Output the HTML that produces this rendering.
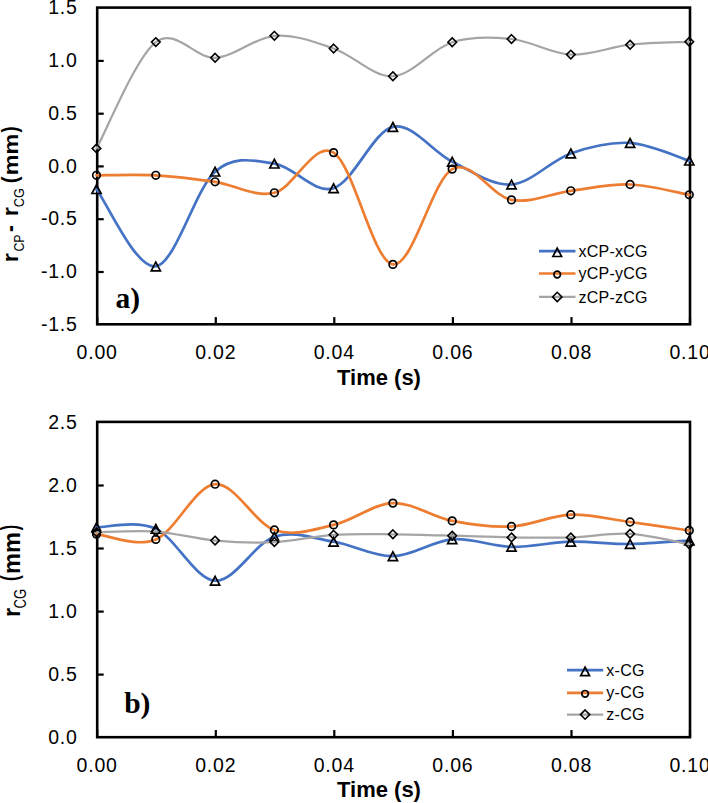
<!DOCTYPE html>
<html><head><meta charset="utf-8">
<style>
html,body{margin:0;padding:0;background:#fff;}
body{width:708px;height:803px;overflow:hidden;}
svg{display:block;}
.tk{stroke:#000;stroke-width:2.2;}
.mt{fill:none;stroke:#000;stroke-width:1.7;stroke-linejoin:miter;}
.mc{fill:none;stroke:#000;stroke-width:1.7;}
.md{fill:none;stroke:#000;stroke-width:1.6;}
.tl{font-family:"Liberation Sans",sans-serif;font-size:19.5px;letter-spacing:0.8px;fill:#000;}
.at{font-family:"Liberation Sans",sans-serif;font-size:22px;font-weight:bold;fill:#000;}
.sub{font-size:15px;}
.vt{font-family:"Liberation Sans",sans-serif;fill:#000;}
.pl{font-family:"Liberation Serif",serif;font-size:29.5px;font-weight:bold;fill:#000;}
.lg{font-family:"Liberation Sans",sans-serif;font-size:16px;letter-spacing:0.25px;fill:#000;}
</style></head>
<body>
<svg width="708" height="803" viewBox="0 0 708 803">
<rect x="97.2" y="7.6" width="592.8" height="316.7" fill="none" stroke="#000" stroke-width="2.6"/>
<line x1="97.2" y1="60.9" x2="103.7" y2="60.9" class="tk"/>
<line x1="97.2" y1="113.7" x2="103.7" y2="113.7" class="tk"/>
<line x1="97.2" y1="166.4" x2="103.7" y2="166.4" class="tk"/>
<line x1="97.2" y1="219.2" x2="103.7" y2="219.2" class="tk"/>
<line x1="97.2" y1="272.0" x2="103.7" y2="272.0" class="tk"/>
<line x1="97.2" y1="324.3" x2="97.2" y2="317.1" class="tk"/>
<line x1="215.8" y1="324.3" x2="215.8" y2="317.1" class="tk"/>
<line x1="334.3" y1="324.3" x2="334.3" y2="317.1" class="tk"/>
<line x1="452.9" y1="324.3" x2="452.9" y2="317.1" class="tk"/>
<line x1="571.5" y1="324.3" x2="571.5" y2="317.1" class="tk"/>
<line x1="690.0" y1="324.3" x2="690.0" y2="317.1" class="tk"/>
<path d="M96.5 189.2C106.4 202.1 136.0 269.4 155.8 266.4C175.5 263.5 195.3 188.8 215.1 171.7C234.8 154.5 254.6 160.9 274.4 163.6C294.1 166.4 313.9 194.3 333.6 188.2C353.4 182.1 373.2 131.3 392.9 126.9C412.7 122.5 432.4 152.1 452.2 161.7C472.0 171.3 491.7 185.9 511.5 184.5C531.3 183.1 551.0 160.3 570.8 153.4C590.5 146.5 610.3 141.7 630.1 142.9C649.8 144.2 679.5 157.7 689.3 160.7" fill="none" stroke="#4472c4" stroke-width="2.7" stroke-linejoin="round" stroke-linecap="round"/>
<path d="M96.5 184.8L101.1 193.5L91.9 193.5Z" class="mt"/><path d="M155.8 262.1L160.4 270.8L151.2 270.8Z" class="mt"/><path d="M215.1 167.3L219.7 176.0L210.5 176.0Z" class="mt"/><path d="M274.4 159.3L279.0 168.0L269.8 168.0Z" class="mt"/><path d="M333.6 183.9L338.2 192.6L329.0 192.6Z" class="mt"/><path d="M392.9 122.5L397.5 131.3L388.3 131.3Z" class="mt"/><path d="M452.2 157.4L456.8 166.1L447.6 166.1Z" class="mt"/><path d="M511.5 180.2L516.1 188.9L506.9 188.9Z" class="mt"/><path d="M570.8 149.0L575.4 157.8L566.2 157.8Z" class="mt"/><path d="M630.1 138.6L634.7 147.3L625.5 147.3Z" class="mt"/><path d="M689.3 156.3L693.9 165.0L684.7 165.0Z" class="mt"/>
<path d="M96.5 175.3C106.4 175.3 136.0 174.3 155.8 175.3C175.5 176.4 195.3 178.9 215.1 181.8C234.8 184.7 254.6 197.6 274.4 192.8C294.1 187.9 313.9 140.7 333.6 152.6C353.4 164.6 373.2 261.7 392.9 264.4C412.7 267.2 432.4 179.9 452.2 169.1C472.0 158.4 491.7 196.3 511.5 199.9C531.3 203.5 551.0 193.3 570.8 190.8C590.5 188.2 610.3 183.9 630.1 184.5C649.8 185.2 679.5 193.1 689.3 194.8" fill="none" stroke="#ed7d31" stroke-width="2.7" stroke-linejoin="round" stroke-linecap="round"/>
<circle cx="96.5" cy="175.3" r="3.8" class="mc"/><circle cx="155.8" cy="175.3" r="3.8" class="mc"/><circle cx="215.1" cy="181.8" r="3.8" class="mc"/><circle cx="274.4" cy="192.8" r="3.8" class="mc"/><circle cx="333.6" cy="152.6" r="3.8" class="mc"/><circle cx="392.9" cy="264.4" r="3.8" class="mc"/><circle cx="452.2" cy="169.1" r="3.8" class="mc"/><circle cx="511.5" cy="199.9" r="3.8" class="mc"/><circle cx="570.8" cy="190.8" r="3.8" class="mc"/><circle cx="630.1" cy="184.5" r="3.8" class="mc"/><circle cx="689.3" cy="194.8" r="3.8" class="mc"/>
<path d="M96.5 148.4C106.4 130.7 136.0 57.2 155.8 42.1C175.5 27.0 195.3 58.9 215.1 57.8C234.8 56.8 254.6 37.4 274.4 35.8C294.1 34.2 313.9 41.7 333.6 48.5C353.4 55.2 373.2 77.3 392.9 76.2C412.7 75.2 432.4 48.4 452.2 42.2C472.0 36.0 491.7 36.9 511.5 39.0C531.3 41.0 551.0 53.6 570.8 54.6C590.5 55.5 610.3 46.8 630.1 44.7C649.8 42.5 679.5 42.3 689.3 41.8" fill="none" stroke="#a5a5a5" stroke-width="2.2" stroke-linejoin="round" stroke-linecap="round"/>
<path d="M96.5 144.1L100.8 148.4L96.5 152.7L92.2 148.4Z" class="md"/><path d="M155.8 37.8L160.1 42.1L155.8 46.4L151.5 42.1Z" class="md"/><path d="M215.1 53.5L219.4 57.8L215.1 62.1L210.8 57.8Z" class="md"/><path d="M274.4 31.5L278.7 35.8L274.4 40.1L270.1 35.8Z" class="md"/><path d="M333.6 44.2L337.9 48.5L333.6 52.8L329.3 48.5Z" class="md"/><path d="M392.9 71.9L397.2 76.2L392.9 80.5L388.6 76.2Z" class="md"/><path d="M452.2 37.9L456.5 42.2L452.2 46.5L447.9 42.2Z" class="md"/><path d="M511.5 34.7L515.8 39.0L511.5 43.3L507.2 39.0Z" class="md"/><path d="M570.8 50.3L575.1 54.6L570.8 58.9L566.5 54.6Z" class="md"/><path d="M630.1 40.4L634.4 44.7L630.1 49.0L625.8 44.7Z" class="md"/><path d="M689.3 37.5L693.6 41.8L689.3 46.1L685.0 41.8Z" class="md"/>
<rect x="97.2" y="421.9" width="592.8" height="315.3" fill="none" stroke="#000" stroke-width="2.6"/>
<line x1="97.2" y1="485.5" x2="103.7" y2="485.5" class="tk"/>
<line x1="97.2" y1="548.5" x2="103.7" y2="548.5" class="tk"/>
<line x1="97.2" y1="611.6" x2="103.7" y2="611.6" class="tk"/>
<line x1="97.2" y1="674.6" x2="103.7" y2="674.6" class="tk"/>
<line x1="97.2" y1="737.2" x2="97.2" y2="730.0" class="tk"/>
<line x1="215.8" y1="737.2" x2="215.8" y2="730.0" class="tk"/>
<line x1="334.3" y1="737.2" x2="334.3" y2="730.0" class="tk"/>
<line x1="452.9" y1="737.2" x2="452.9" y2="730.0" class="tk"/>
<line x1="571.5" y1="737.2" x2="571.5" y2="730.0" class="tk"/>
<line x1="690.0" y1="737.2" x2="690.0" y2="730.0" class="tk"/>
<path d="M96.5 527.2C106.4 527.5 136.0 519.9 155.8 528.8C175.5 537.8 195.3 579.4 215.1 580.7C234.8 582.0 254.6 543.2 274.4 536.7C294.1 530.2 313.9 538.5 333.6 541.7C353.4 545.0 373.2 556.6 392.9 556.2C412.7 555.8 432.4 540.9 452.2 539.3C472.0 537.7 491.7 546.4 511.5 546.8C531.3 547.2 551.0 542.2 570.8 541.7C590.5 541.3 610.3 544.2 630.1 544.0C649.8 543.8 679.5 541.0 689.3 540.5" fill="none" stroke="#4472c4" stroke-width="2.7" stroke-linejoin="round" stroke-linecap="round"/>
<path d="M96.5 522.8L101.1 531.6L91.9 531.6Z" class="mt"/><path d="M155.8 524.5L160.4 533.2L151.2 533.2Z" class="mt"/><path d="M215.1 576.3L219.7 585.1L210.5 585.1Z" class="mt"/><path d="M274.4 532.3L279.0 541.0L269.8 541.0Z" class="mt"/><path d="M333.6 537.3L338.2 546.1L329.0 546.1Z" class="mt"/><path d="M392.9 551.8L397.5 560.6L388.3 560.6Z" class="mt"/><path d="M452.2 534.9L456.8 543.7L447.6 543.7Z" class="mt"/><path d="M511.5 542.4L516.1 551.1L506.9 551.1Z" class="mt"/><path d="M570.8 537.3L575.4 546.1L566.2 546.1Z" class="mt"/><path d="M630.1 539.6L634.7 548.4L625.5 548.4Z" class="mt"/><path d="M689.3 536.1L693.9 544.8L684.7 544.8Z" class="mt"/>
<path d="M96.5 534.1C106.4 535.0 136.0 547.8 155.8 539.4C175.5 531.1 195.3 485.8 215.1 484.2C234.8 482.6 254.6 523.2 274.4 530.0C294.1 536.8 313.9 529.4 333.6 524.9C353.4 520.5 373.2 503.8 392.9 503.1C412.7 502.4 432.4 517.0 452.2 520.9C472.0 524.8 491.7 527.5 511.5 526.5C531.3 525.4 551.0 515.5 570.8 514.7C590.5 514.0 610.3 519.4 630.1 522.0C649.8 524.7 679.5 529.1 689.3 530.5" fill="none" stroke="#ed7d31" stroke-width="2.7" stroke-linejoin="round" stroke-linecap="round"/>
<circle cx="96.5" cy="534.1" r="3.8" class="mc"/><circle cx="155.8" cy="539.4" r="3.8" class="mc"/><circle cx="215.1" cy="484.2" r="3.8" class="mc"/><circle cx="274.4" cy="530.0" r="3.8" class="mc"/><circle cx="333.6" cy="524.9" r="3.8" class="mc"/><circle cx="392.9" cy="503.1" r="3.8" class="mc"/><circle cx="452.2" cy="520.9" r="3.8" class="mc"/><circle cx="511.5" cy="526.5" r="3.8" class="mc"/><circle cx="570.8" cy="514.7" r="3.8" class="mc"/><circle cx="630.1" cy="522.0" r="3.8" class="mc"/><circle cx="689.3" cy="530.5" r="3.8" class="mc"/>
<path d="M96.5 532.3C106.4 532.1 136.0 530.2 155.8 531.6C175.5 533.0 195.3 538.8 215.1 540.6C234.8 542.3 254.6 543.1 274.4 542.1C294.1 541.1 313.9 536.1 333.6 534.8C353.4 533.5 373.2 534.1 392.9 534.3C412.7 534.4 432.4 535.1 452.2 535.7C472.0 536.2 491.7 537.1 511.5 537.4C531.3 537.7 551.0 538.0 570.8 537.4C590.5 536.8 610.3 532.6 630.1 533.8C649.8 534.9 679.5 542.5 689.3 544.2" fill="none" stroke="#a5a5a5" stroke-width="2.2" stroke-linejoin="round" stroke-linecap="round"/>
<path d="M96.5 528.0L100.8 532.3L96.5 536.6L92.2 532.3Z" class="md"/><path d="M155.8 527.3L160.1 531.6L155.8 535.9L151.5 531.6Z" class="md"/><path d="M215.1 536.3L219.4 540.6L215.1 544.9L210.8 540.6Z" class="md"/><path d="M274.4 537.8L278.7 542.1L274.4 546.4L270.1 542.1Z" class="md"/><path d="M333.6 530.5L337.9 534.8L333.6 539.1L329.3 534.8Z" class="md"/><path d="M392.9 530.0L397.2 534.3L392.9 538.6L388.6 534.3Z" class="md"/><path d="M452.2 531.4L456.5 535.7L452.2 540.0L447.9 535.7Z" class="md"/><path d="M511.5 533.1L515.8 537.4L511.5 541.7L507.2 537.4Z" class="md"/><path d="M570.8 533.1L575.1 537.4L570.8 541.7L566.5 537.4Z" class="md"/><path d="M630.1 529.5L634.4 533.8L630.1 538.1L625.8 533.8Z" class="md"/><path d="M689.3 539.9L693.6 544.2L689.3 548.5L685.0 544.2Z" class="md"/>
<text x="77.7" y="14.2" class="tl" text-anchor="end">1.5</text>
<text x="77.7" y="67.0" class="tl" text-anchor="end">1.0</text>
<text x="77.7" y="119.8" class="tl" text-anchor="end">0.5</text>
<text x="77.7" y="172.5" class="tl" text-anchor="end">0.0</text>
<text x="77.7" y="225.3" class="tl" text-anchor="end">-0.5</text>
<text x="77.7" y="278.1" class="tl" text-anchor="end">-1.0</text>
<text x="77.7" y="330.9" class="tl" text-anchor="end">-1.5</text>
<text x="77.7" y="428.5" class="tl" text-anchor="end">2.5</text>
<text x="77.7" y="491.6" class="tl" text-anchor="end">2.0</text>
<text x="77.7" y="554.6" class="tl" text-anchor="end">1.5</text>
<text x="77.7" y="617.7" class="tl" text-anchor="end">1.0</text>
<text x="77.7" y="680.7" class="tl" text-anchor="end">0.5</text>
<text x="77.7" y="743.8" class="tl" text-anchor="end">0.0</text>
<text x="97.2" y="358.9" class="tl" text-anchor="middle">0.00</text>
<text x="97.2" y="772.2" class="tl" text-anchor="middle">0.00</text>
<text x="215.8" y="358.9" class="tl" text-anchor="middle">0.02</text>
<text x="215.8" y="772.2" class="tl" text-anchor="middle">0.02</text>
<text x="334.3" y="358.9" class="tl" text-anchor="middle">0.04</text>
<text x="334.3" y="772.2" class="tl" text-anchor="middle">0.04</text>
<text x="452.9" y="358.9" class="tl" text-anchor="middle">0.06</text>
<text x="452.9" y="772.2" class="tl" text-anchor="middle">0.06</text>
<text x="571.5" y="358.9" class="tl" text-anchor="middle">0.08</text>
<text x="571.5" y="772.2" class="tl" text-anchor="middle">0.08</text>
<text x="690.0" y="358.9" class="tl" text-anchor="middle">0.10</text>
<text x="690.0" y="772.2" class="tl" text-anchor="middle">0.10</text>
<text x="337" y="384.7" class="at">Time (s)</text>
<text x="337" y="796.8" class="at">Time (s)</text>
<text transform="translate(18.40 262.27) rotate(-90) scale(1.071 0.992)" class="vt" font-size="22" font-weight="bold">r</text>
<text transform="translate(23.90 251.58) rotate(-90) scale(0.775 0.908)" class="vt" font-size="16" font-weight="normal">CP</text>
<text transform="translate(17.80 232.03) rotate(-90) scale(0.933 1.100)" class="vt" font-size="22" font-weight="bold">-</text>
<text transform="translate(18.30 216.17) rotate(-90) scale(1.071 1.000)" class="vt" font-size="22" font-weight="bold">r</text>
<text transform="translate(23.90 207.30) rotate(-90) scale(0.795 0.900)" class="vt" font-size="16" font-weight="normal">CG</text>
<text transform="translate(16.80 183.22) rotate(-90) scale(0.917 1.019)" class="vt" font-size="22" font-weight="bold">(</text>
<text transform="translate(18.40 175.36) rotate(-90) scale(1.062 0.950)" class="vt" font-size="22" font-weight="bold">mm</text>
<text transform="translate(16.80 132.50) rotate(-90) scale(0.833 1.019)" class="vt" font-size="22" font-weight="bold">)</text>
<text transform="translate(19.80 616.97) rotate(-90) scale(1.071 1.092)" class="vt" font-size="22" font-weight="bold">r</text>
<text transform="translate(26.10 608.51) rotate(-90) scale(0.814 0.992)" class="vt" font-size="16" font-weight="normal">CG</text>
<text transform="translate(18.47 581.10) rotate(-90) scale(0.800 1.086)" class="vt" font-size="22" font-weight="bold">(</text>
<text transform="translate(19.60 573.97) rotate(-90) scale(1.070 1.092)" class="vt" font-size="22" font-weight="bold">mm</text>
<text transform="translate(18.21 530.20) rotate(-90) scale(0.733 1.057)" class="vt" font-size="22" font-weight="bold">)</text>
<text x="115.6" y="307.8" class="pl">a)</text>
<text x="124.2" y="712.6" class="pl">b)</text>
<line x1="539.0" y1="251.1" x2="575.5" y2="251.1" stroke="#4472c4" stroke-width="2.7"/>
<path d="M557.2 248.1L561.6 256.5L552.9 256.5Z" class="mt"/>
<text x="578.5" y="256.7" class="lg">xCP-xCG</text>
<line x1="539.0" y1="273.5" x2="575.5" y2="273.5" stroke="#ed7d31" stroke-width="2.7"/>
<circle cx="557.2" cy="274.5" r="3.3" class="mc"/>
<text x="578.5" y="279.1" class="lg">yCP-yCG</text>
<line x1="539.0" y1="296.9" x2="575.5" y2="296.9" stroke="#a5a5a5" stroke-width="2.4"/>
<path d="M557.2 292.3L561.9 296.9L557.2 301.5L552.6 296.9Z" class="md"/>
<text x="578.5" y="302.5" class="lg">zCP-zCG</text>
<line x1="567.0" y1="670.2" x2="603.2" y2="670.2" stroke="#4472c4" stroke-width="2.7"/>
<path d="M585.1 667.2L589.5 675.6L580.7 675.6Z" class="mt"/>
<text x="606.3" y="675.8" class="lg">x-CG</text>
<line x1="567.0" y1="692.8" x2="603.2" y2="692.8" stroke="#ed7d31" stroke-width="2.7"/>
<circle cx="585.1" cy="693.8" r="3.3" class="mc"/>
<text x="606.3" y="698.4" class="lg">y-CG</text>
<line x1="567.0" y1="714.6" x2="603.2" y2="714.6" stroke="#a5a5a5" stroke-width="2.4"/>
<path d="M585.1 710.0L589.7 714.6L585.1 719.2L580.5 714.6Z" class="md"/>
<text x="606.3" y="720.2" class="lg">z-CG</text>
</svg>
</body></html>
